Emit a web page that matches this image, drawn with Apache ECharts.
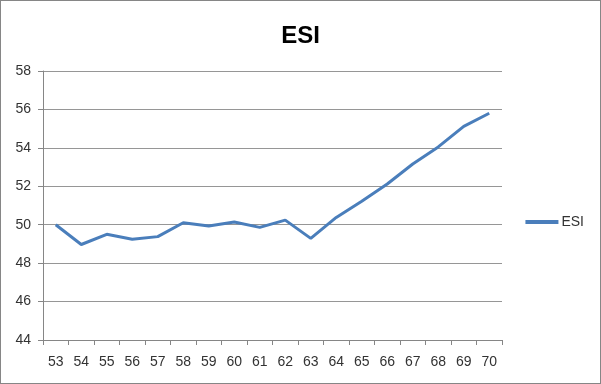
<!DOCTYPE html>
<html><head><meta charset="utf-8">
<script src="https://cdn.jsdelivr.net/npm/echarts@6/dist/echarts.min.js"></script>
<style>html,body{margin:0;padding:0;background:#fff}#c{width:601px;height:384px;box-sizing:border-box;border:1px solid #868686}</style>
</head><body><div id="c"></div>
<script>
var categories = ['53','54','55','56','57','58','59','60','61','62','63','64','65','66','67','68','69','70'];
var esiValues = [50.0,48.97,49.5,49.24,49.38,50.1,49.93,50.14,49.86,50.24,49.29,50.38,51.22,52.12,53.16,54.05,55.12,55.8];
var seriesName = 'ESI';
var chart = echarts.init(document.getElementById('c'), null, {renderer:'canvas'});
chart.setOption({
  animation:false,
  title:{text:'ESI',left:'center',top:18,textStyle:{fontFamily:'Liberation Sans Narrow, Liberation Sans',fontSize:24,fontWeight:'bold',color:'#000'}},
  legend:{data:[seriesName],right:11,top:209,orient:'vertical',itemWidth:33,itemHeight:4,itemGap:3,icon:'rect',
    textStyle:{fontFamily:'Liberation Sans Narrow, Liberation Sans',fontSize:14,color:'#333',padding:[0,0,0,-2]}},
  grid:{left:42,right:98,top:70,bottom:43},
  xAxis:{type:'category',data:categories,boundaryGap:true,
    axisLine:{lineStyle:{color:'#868686'}},
    axisTick:{show:true,length:5,lineStyle:{color:'#868686'}},
    axisLabel:{fontFamily:'Liberation Sans Narrow, Liberation Sans',fontSize:14,color:'#333',margin:15}},
  yAxis:{type:'value',min:44,max:58,interval:2,
    axisLine:{show:true,lineStyle:{color:'#868686'}},
    axisTick:{show:true,length:5,lineStyle:{color:'#868686'}},
    splitLine:{lineStyle:{color:'#969696'}},
    axisLabel:{fontFamily:'Liberation Sans Narrow, Liberation Sans',fontSize:14,color:'#333',margin:12}},
  series:[{name:seriesName,type:'line',data:esiValues,symbol:'none',
    lineStyle:{color:'#4a7ebb',width:3},itemStyle:{color:'#4a7ebb'}}]
});
</script></body></html>
